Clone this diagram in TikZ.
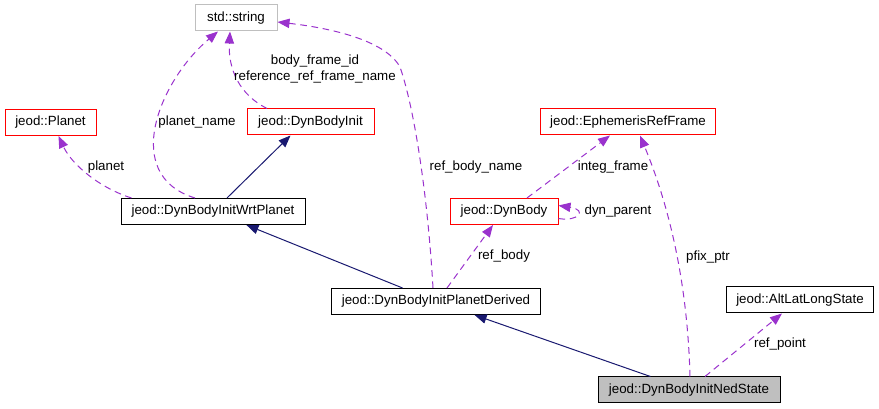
\documentclass[tikz,border=0pt]{standalone}
\usepackage{fontspec}
\setmainfont{Liberation Sans}
\usepackage{tikz}
\usetikzlibrary{positioning,calc,arrows.meta}

\definecolor{edgenavy}{HTML}{191970}
\definecolor{edgepurple}{HTML}{9A32CD}
\definecolor{boxgrey}{HTML}{BFBFBF}

\begin{document}
\begin{tikzpicture}[x=0.75pt, y=-0.75pt, font=\fontsize{10}{12}\selectfont,
    cls/.style={draw, line width=0.75pt, minimum height=19.5pt, inner xsep=2pt, inner ysep=0pt},
    clsred/.style={cls, draw=red},
    inherit/.style={edgenavy, line width=0.75pt, -{Triangle[length=9pt, width=7pt]}},
    uses/.style={edgepurple, line width=0.75pt, dash pattern=on 5pt off 3.5pt, -{Triangle[length=9pt, width=7pt]}},
    lbl/.style={inner sep=0pt, align=center}]

    \useasboundingbox (0,0) rectangle (879,409);

    % classes
    \node [cls, draw=boxgrey, minimum width=61.5pt] (str) at (236,18) {std::string};
    \node [clsred, minimum width=95.25pt] (init) at (310.5,122) {jeod::DynBodyInit};
    \node [clsred, minimum width=68.25pt] (planet) at (50.5,122.5) {jeod::Planet};
    \node [cls, minimum width=138pt] (wrt) at (213,211.5) {jeod::DynBodyInitWrtPlanet};
    \node [clsred, minimum width=131.25pt] (eph) at (628,122) {jeod::EphemerisRefFrame};
    \node [clsred, minimum width=81pt] (dyn) at (504,211.5) {jeod::DynBody};
    \node [cls, minimum width=156.75pt] (derived) at (436,301.5) {jeod::DynBodyInitPlanetDerived};
    \node [cls, minimum width=110.25pt] (alt) at (800,300) {jeod::AltLatLongState};
    \node [cls, fill=boxgrey, minimum width=136.5pt] (ned) at (689,390) {jeod::DynBodyInitNedState};

    % inheritance
    \draw [inherit] ($(wrt.north)+(14,0)$) -- ($(init.south)+(-20,0)$);
    \draw [inherit] (derived) -- (wrt);
    \draw [inherit] (ned) -- (derived);

    % members
    \draw [uses] ($(wrt.north west)+(11,0)$) .. controls (100,188) and (72,165) .. ($(planet.south)+(8,0)$);
    \draw [uses] ($(wrt.north)+(-18,0)$) .. controls (120,175) and (160,80) .. ($(str.south)+(-18,0)$);
    \draw [uses] ($(init.north)+(-43.5,0)$) .. controls (240,95) and (228,70) .. ($(str.south)+(-6,0)$);
    \draw [uses] ($(derived.north)+(-3,0)$) .. controls (428,200) and (415,110) .. (400,67)
        .. controls (385,40) and (330,28) .. ($(str.east)+(0,4)$);
    \draw [uses] ($(derived.north)+(11,0)$) -- ($(dyn.south)+(-11,0)$);
    \draw [uses] ($(dyn.north)+(23,0)$) -- ($(eph.south)+(-18,0)$);
    \draw [uses] ($(dyn.east)+(0,7)$) .. controls (578,222) and (588,210) .. ($(dyn.east)+(0,-6)$);
    \draw [uses] ($(ned.north)+(1,0)$) .. controls (688,300) and (675,220) .. ($(eph.south)+(12,0)$);
    \draw [uses] ($(ned.north)+(16,0)$) -- ($(alt.south)+(-18,0)$);

    % labels
    \node [lbl] (lplanet) at (106,167) {planet};
    \node [lbl] (lplanetname) at (197,122) {planet\_name};
    \node [lbl] (lframe) at (315,69) {body\_frame\_id\\reference\_ref\_frame\_name};
    \node [lbl] (lrefname) at (476,167) {ref\_body\_name};
    \node [lbl] (lrefbody) at (504,256) {ref\_body};
    \node [lbl] (linteg) at (613,167) {integ\_frame};
    \node [lbl] (lparent) at (618,211) {dyn\_parent};
    \node [lbl] (lpfix) at (708,257) {pfix\_ptr};
    \node [lbl] (lrefpoint) at (780,344) {ref\_point};

\end{tikzpicture}
\end{document}
